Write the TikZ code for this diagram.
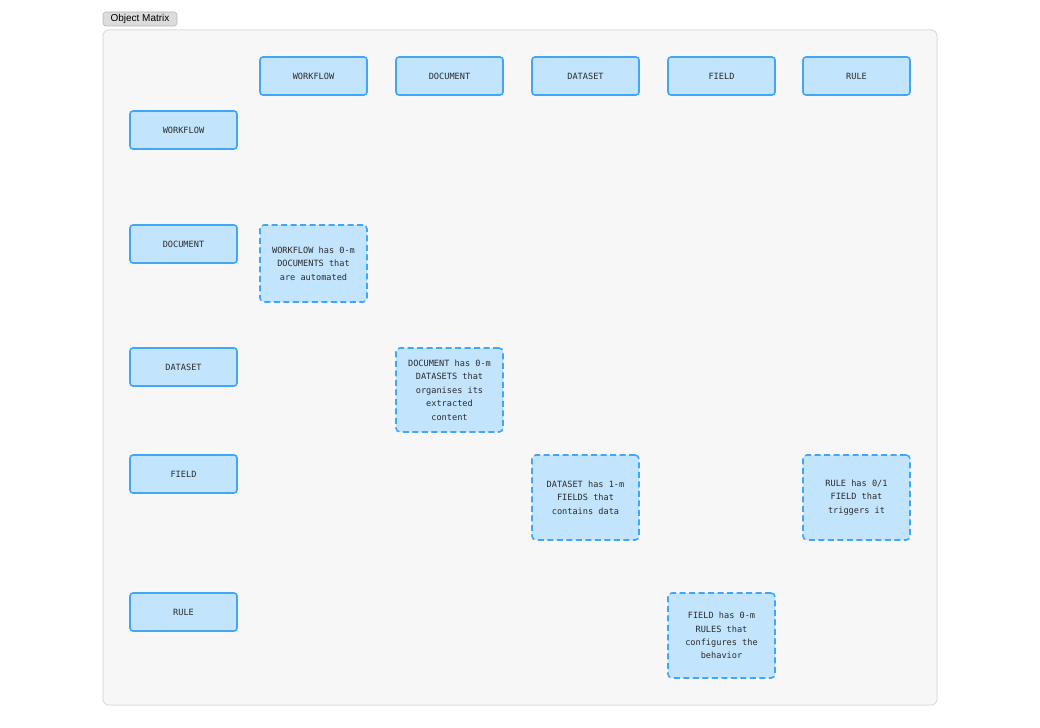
\documentclass[tikz,border=0pt]{standalone}
\usepackage{fontspec}
\setmainfont{Liberation Sans}
\newfontfamily\monof{DejaVu Sans Mono}
\newcommand\monosize{\monof\fontsize{8.6bp}{13.4bp}\selectfont}
\newcommand\sk{\hbox to 0.602em{}}
\definecolor{cellfill}{HTML}{C2E4FD}
\definecolor{celldraw}{HTML}{42A5F5}
\definecolor{celltext}{HTML}{2B2B2B}
\definecolor{panelfill}{HTML}{F7F7F7}
\definecolor{paneldraw}{HTML}{DDDDDD}
\definecolor{tagfill}{HTML}{DCDCDC}
\definecolor{tagdraw}{HTML}{B5B5B5}
\begin{document}
\begin{tikzpicture}[x=1bp,y=-1bp,
  hdr/.style={draw=celldraw, fill=cellfill, line width=1.6bp, rounded corners=3bp,
    minimum width=107bp, minimum height=38bp, inner sep=0pt,
    font=\monosize, text=celltext},
  rel/.style={draw=celldraw, fill=cellfill, line width=1.6bp, rounded corners=4bp,
    dash pattern=on 6bp off 3.5bp,
    minimum width=107bp, inner sep=0pt, align=center, text width=104bp,
    font=\monosize, text=celltext},
  panel/.style={draw=paneldraw, fill=panelfill, line width=1bp, rounded corners=6bp},
  tag/.style={draw=tagdraw, fill=tagfill, line width=0.6bp, rounded corners=3bp,
    inner sep=0pt, minimum width=74bp, minimum height=14bp,
    font=\fontsize{10bp}{11bp}\selectfont, text=black}
]
\useasboundingbox (0,0) rectangle (1040,728);
\path[panel] (103,30) rectangle (937,705);
\node[tag] (title) at (140,19) {Object Matrix};
% column headers
\node[hdr] (cwf) at (313.5,76) {WORKFLOW};
\node[hdr] (cdoc) at (449.5,76) {DOCUMENT};
\node[hdr] (cds) at (585.5,76) {DATASET};
\node[hdr] (cfl) at (721.5,76) {FIELD};
\node[hdr] (cru) at (856.5,76) {RULE};
% row headers
\node[hdr] (rwf) at (183.5,130) {WORKFLOW};
\node[hdr] (rdoc) at (183.5,244) {DOCUMENT};
\node[hdr] (rds) at (183.5,367) {DATASET};
\node[hdr] (rfl) at (183.5,474) {FIELD};
\node[hdr] (rru) at (183.5,612) {RULE};
% relations
\node[rel, minimum height=77bp] (r1) at (313.5,263.5) {WORKFLOW\sk has\sk 0-m\\DOCUMENTS\sk that\\are\sk automated};
\node[rel, minimum height=84bp] (r2) at (449.5,390) {DOCUMENT\sk has\sk 0-m\\DATASETS\sk that\\organises\sk its\\extracted\\content};
\node[rel, minimum height=85bp] (r3) at (585.5,497.5) {DATASET\sk has\sk 1-m\\FIELDS\sk that\\contains\sk data};
\node[rel, minimum height=85bp] (r4) at (856.5,497.5) {RULE\sk has\sk 0/1\\FIELD\sk that\\triggers\sk it};
\node[rel, minimum height=85bp] (r5) at (721.5,635.5) {FIELD\sk has\sk 0-m\\RULES\sk that\\configures\sk the\\behavior};
\end{tikzpicture}
\end{document}
